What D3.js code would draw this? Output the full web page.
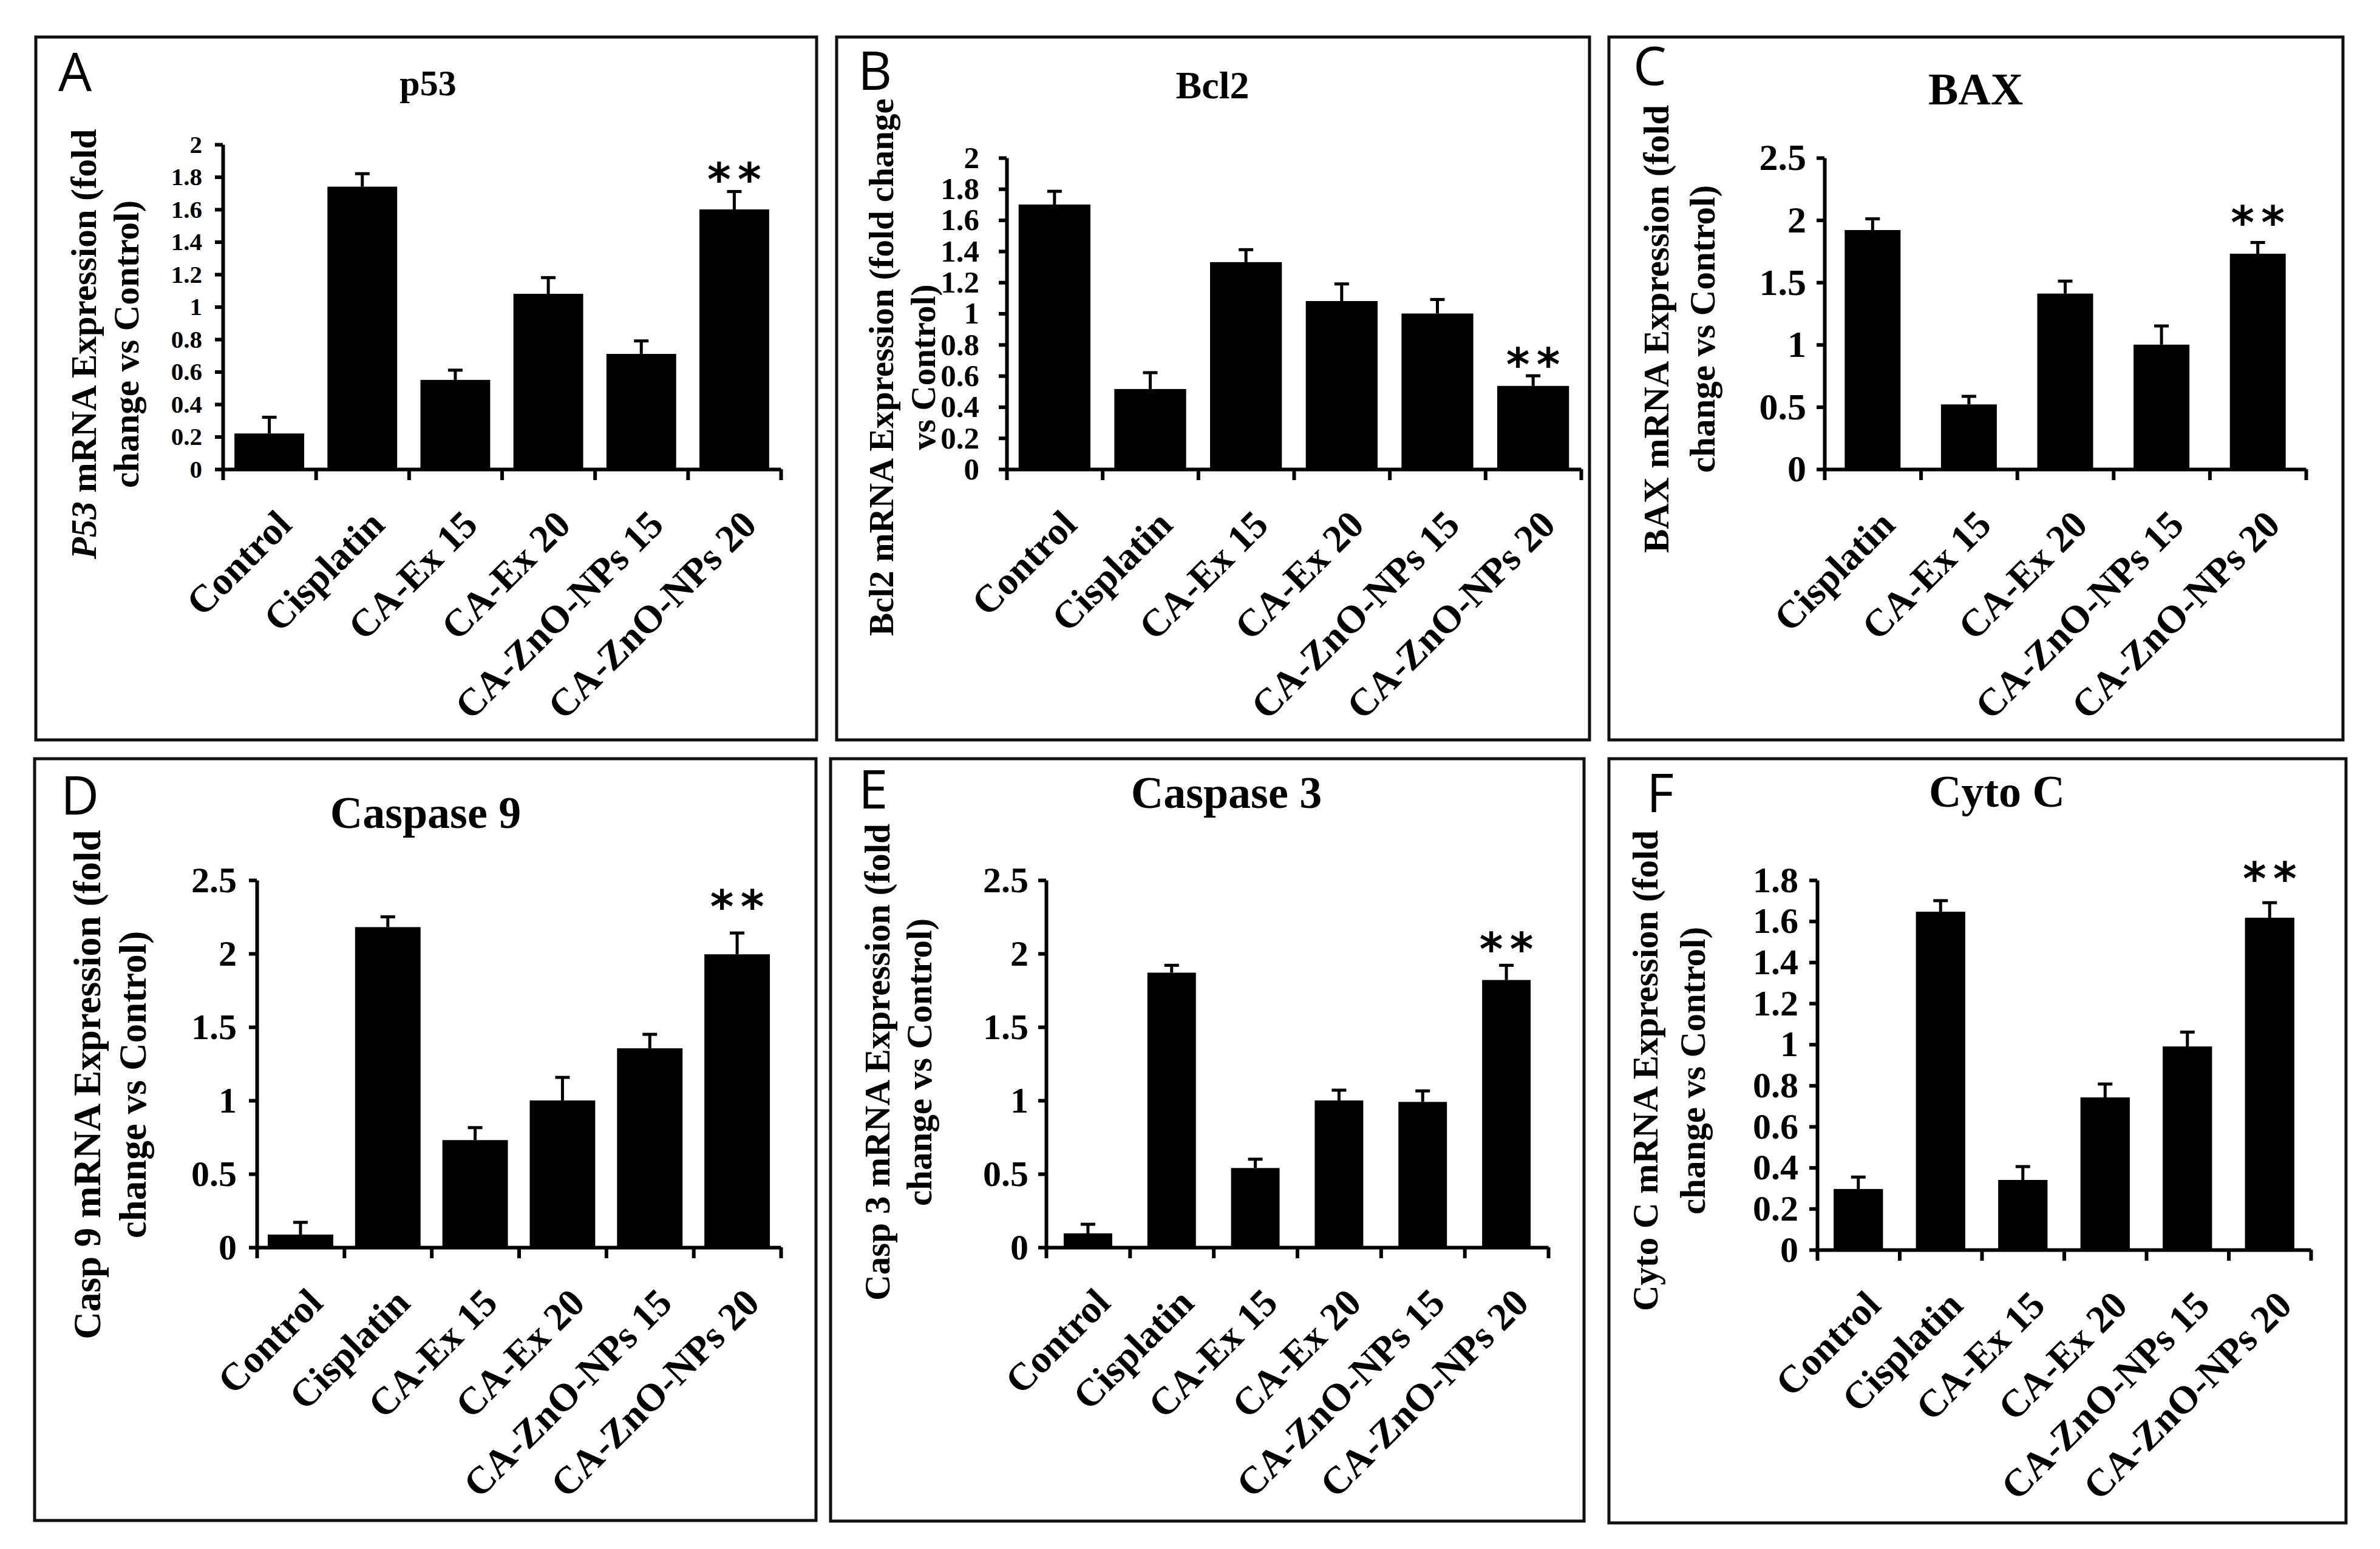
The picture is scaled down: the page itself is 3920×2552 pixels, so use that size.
<!DOCTYPE html>
<html>
<head>
<meta charset="utf-8">
<script src="https://cdn.jsdelivr.net/npm/d3@7"></script>
<style>
  body { margin: 0; background: #fff; }
</style>
</head>
<body>
<svg id="chart" width="3920" height="2552"></svg>
<script>
// ---- data ----
var categories = ["Control", "Cisplatin", "CA-Ex 15", "CA-Ex 20", "CA-ZnO-NPs 15", "CA-ZnO-NPs 20"];
var baxCategories = ["Cisplatin", "CA-Ex 15", "CA-Ex 20", "CA-ZnO-NPs 15", "CA-ZnO-NPs 20"];

var p53Mean = [0.22, 1.74, 0.55, 1.08, 0.71, 1.60];
var p53Err  = [0.10, 0.08, 0.06, 0.10, 0.08, 0.11];
var bcl2Mean = [1.70, 0.515, 1.33, 1.08, 1.00, 0.535];
var bcl2Err  = [0.085, 0.105, 0.08, 0.11, 0.09, 0.065];
var baxMean = [1.92, 0.52, 1.41, 1.00, 1.73];
var baxErr  = [0.09, 0.065, 0.10, 0.15, 0.09];
var casp9Mean = [0.087, 2.18, 0.73, 1.00, 1.355, 1.995];
var casp9Err  = [0.083, 0.07, 0.085, 0.157, 0.095, 0.145];
var casp3Mean = [0.095, 1.87, 0.54, 1.00, 0.99, 1.82];
var casp3Err  = [0.062, 0.05, 0.06, 0.07, 0.075, 0.10];
var cytoMean = [0.296, 1.646, 0.34, 0.742, 0.99, 1.617];
var cytoErr  = [0.058, 0.054, 0.065, 0.065, 0.07, 0.073];

var ticks2  = [0, 0.2, 0.4, 0.6, 0.8, 1, 1.2, 1.4, 1.6, 1.8, 2];
var ticks25 = [0, 0.5, 1, 1.5, 2, 2.5];
var ticks18 = [0, 0.2, 0.4, 0.6, 0.8, 1, 1.2, 1.4, 1.6, 1.8];

// level (in axis units) of the "**" mark over the last bar
var starLevel = [1.84, 0.73, 2.05, 2.38, 2.09, 1.85];

// ---- layout ----
var SERIF = "'Liberation Serif', 'Times New Roman', serif";

var panels = [
  { letter: "A", title: "p53", cats: categories, mean: p53Mean, err: p53Err, ticks: ticks2,
    ylab: ["mRNA Expression (fold", "change vs Control)"], italic: "P53",
    box: [59, 61, 1345, 1219], letterPos: [96, 150], titlePos: [705, 157], titleFs: 60,
    x0: 367, x1: 1286, yZero: 773, yTop: 238, barFrac: 0.75, tickFs: 41, tickPad: 21,
    ylabFs: 59, ylabX: [158, 228], ylabY: 567 },
  { letter: "B", title: "Bcl2", cats: categories, mean: bcl2Mean, err: bcl2Err, ticks: ticks2,
    ylab: ["Bcl2 mRNA Expression (fold change", "vs Control)"],
    box: [1378, 61, 2618, 1219], letterPos: [1413, 148], titlePos: [1997, 162], titleFs: 64,
    x0: 1658, x1: 2604, yZero: 773, yTop: 260, barFrac: 0.75, tickFs: 51, tickPad: 32,
    ylabFs: 57, ylabX: [1471, 1540], ylabY: 605 },
  { letter: "C", title: "BAX", cats: baxCategories, mean: baxMean, err: baxErr, ticks: ticks25,
    ylab: ["BAX mRNA Expression (fold", "change vs Control)"],
    box: [2650, 61, 3859, 1219], letterPos: [2690, 140], titlePos: [3254, 172], titleFs: 74,
    x0: 3005, x1: 3798, yZero: 773, yTop: 260, barFrac: 0.58, tickFs: 62, tickPad: 17,
    ylabFs: 59, ylabX: [2748, 2824], ylabY: 542 },
  { letter: "D", title: "Caspase 9", cats: categories, mean: casp9Mean, err: casp9Err, ticks: ticks25,
    ylab: ["Casp 9 mRNA Expression (fold", "change vs Control)"],
    box: [57, 1250, 1344, 2505], letterPos: [100, 1342], titlePos: [701, 1364], titleFs: 74,
    x0: 423, x1: 1286, yZero: 2055, yTop: 1450, barFrac: 0.75, tickFs: 60, tickPad: 20,
    ylabFs: 63, ylabX: [165, 240], ylabY: 1787 },
  { letter: "E", title: "Caspase 3", cats: categories, mean: casp3Mean, err: casp3Err, ticks: ticks25,
    ylab: ["Casp 3 mRNA Expression (fold", "change vs Control)"],
    box: [1368, 1250, 2609, 2506], letterPos: [1414, 1332], titlePos: [2020, 1331], titleFs: 74,
    x0: 1723, x1: 2550, yZero: 2055, yTop: 1450, barFrac: 0.58, tickFs: 60, tickPad: 16,
    ylabFs: 59, ylabX: [1465, 1534], ylabY: 1750 },
  { letter: "F", title: "Cyto C", cats: categories, mean: cytoMean, err: cytoErr, ticks: ticks18,
    ylab: ["Cyto C mRNA Expression (fold", "change vs Control)"],
    box: [2650, 1250, 3864, 2509], letterPos: [2712, 1338], titlePos: [3289, 1329], titleFs: 74,
    x0: 2993, x1: 3806, yZero: 2059, yTop: 1450, barFrac: 0.6, tickFs: 60, tickPad: 18,
    ylabFs: 59, ylabX: [2730, 2808], ylabY: 1764 }
];

var svg = d3.select("#chart");

svg.append("rect")
  .attr("width", 3920).attr("height", 2552)
  .attr("fill", "#fff");

function drawPanel(p, idx) {
  var g = svg.append("g").attr("class", "panel");

  // frame
  g.append("rect")
    .attr("x", p.box[0]).attr("y", p.box[1])
    .attr("width", p.box[2] - p.box[0])
    .attr("height", p.box[3] - p.box[1])
    .attr("fill", "none")
    .attr("stroke", "#111")
    .attr("stroke-width", 5);

  // panel letter
  g.append("text")
    .attr("x", p.letterPos[0]).attr("y", p.letterPos[1])
    .attr("font-family", "'Open Sans', sans-serif")
    .attr("font-size", 87)
    .text(p.letter);

  // title
  g.append("text")
    .attr("x", p.titlePos[0]).attr("y", p.titlePos[1])
    .attr("text-anchor", "middle")
    .attr("font-family", SERIF)
    .attr("font-weight", "bold")
    .attr("font-size", p.titleFs)
    .text(p.title);

  var y = d3.scaleLinear()
    .domain([0, p.ticks[p.ticks.length - 1]])
    .range([p.yZero, p.yTop]);

  var x = d3.scaleBand()
    .domain(p.cats)
    .range([p.x0, p.x1]);

  // boundaries between categories, used for the x tick marks
  var edge = d3.scaleLinear()
    .domain([0, p.cats.length])
    .range([p.x0, p.x1]);

  var rows = p.cats.map(function(c, i) {
    return { cat: c, mean: p.mean[i], err: p.err[i] };
  });

  var bw = x.bandwidth() * p.barFrac;

  // bars
  g.selectAll("rect.bar")
    .data(rows)
    .enter()
    .append("rect")
    .attr("class", "bar")
    .attr("x", function(d) { return x(d.cat) + (x.bandwidth() - bw) / 2; })
    .attr("width", bw)
    .attr("y", function(d) { return y(d.mean); })
    .attr("height", function(d) { return y(0) - y(d.mean); })
    .attr("fill", "#000");

  // error bars (upper whisker only shows)
  var eb = g.selectAll("g.err")
    .data(rows)
    .enter()
    .append("g")
    .attr("class", "err")
    .attr("stroke", "#000")
    .attr("stroke-width", 5);

  eb.append("line")
    .attr("x1", function(d) { return x(d.cat) + x.bandwidth() / 2; })
    .attr("x2", function(d) { return x(d.cat) + x.bandwidth() / 2; })
    .attr("y1", function(d) { return y(d.mean); })
    .attr("y2", function(d) { return y(d.mean + d.err); });

  eb.append("line")
    .attr("x1", function(d) { return x(d.cat) + x.bandwidth() / 2 - 12; })
    .attr("x2", function(d) { return x(d.cat) + x.bandwidth() / 2 + 12; })
    .attr("y1", function(d) { return y(d.mean + d.err); })
    .attr("y2", function(d) { return y(d.mean + d.err); });

  // x axis: line plus ticks at category boundaries
  g.append("g")
    .attr("class", "x-axis")
    .attr("transform", "translate(0 " + p.yZero + ")")
    .call(d3.axisBottom(edge)
      .tickValues(d3.range(p.cats.length + 1))
      .tickSize(18)
      .tickSizeOuter(0)
      .tickFormat(""))
    .call(function(a) {
      a.selectAll("path, line").attr("stroke", "#000").attr("stroke-width", 6);
    });

  // y axis
  g.append("g")
    .attr("class", "y-axis")
    .attr("transform", "translate(" + p.x0 + " 0)")
    .call(d3.axisLeft(y)
      .tickValues(p.ticks)
      .tickSize(13)
      .tickSizeOuter(0)
      .tickPadding(p.tickPad)
      .tickFormat(function(d) { return String(d); }))
    .call(function(a) {
      a.selectAll("path, line").attr("stroke", "#000").attr("stroke-width", 6);
      a.selectAll("text")
        .attr("fill", "#000")
        .attr("font-family", SERIF)
        .attr("font-weight", "bold")
        .attr("font-size", p.tickFs);
    });

  // rotated category labels
  g.selectAll("text.xl")
    .data(p.cats)
    .enter()
    .append("text")
    .attr("class", "xl")
    .attr("transform", function(c) {
      return "translate(" + (x(c) + x.bandwidth() / 2 + 40) + " " + (p.yZero + 95) + ") rotate(-45)";
    })
    .attr("text-anchor", "end")
    .attr("font-family", SERIF)
    .attr("font-weight", "bold")
    .attr("font-size", 64)
    .text(function(c) { return c; });

  // y axis title, two lines
  p.ylab.forEach(function(line, k) {
    var t = g.append("text")
      .attr("transform", "translate(" + p.ylabX[k] + " " + p.ylabY + ") rotate(-90)")
      .attr("text-anchor", "middle")
      .attr("font-family", SERIF)
      .attr("font-weight", "bold")
      .attr("font-size", p.ylabFs);
    if (k == 0 && p.italic) {
      t.append("tspan").attr("font-style", "italic").text(p.italic);
      t.append("tspan").text(" " + line);
    } else {
      t.text(line);
    }
  });

  // significance mark over the last bar
  var last = p.cats[p.cats.length - 1];
  var cx = x(last) + x.bandwidth() / 2;
  [-25, 25].forEach(function(off) {
    g.append("text")
      .attr("x", cx + off)
      .attr("y", y(starLevel[idx]) + 41)
      .attr("text-anchor", "middle")
      .attr("font-family", "'DejaVu Sans', sans-serif")
      .attr("font-weight", "bold")
      .attr("font-size", 74)
      .text("*");
  });
}

panels.forEach(drawPanel);
</script>
</body>
</html>
